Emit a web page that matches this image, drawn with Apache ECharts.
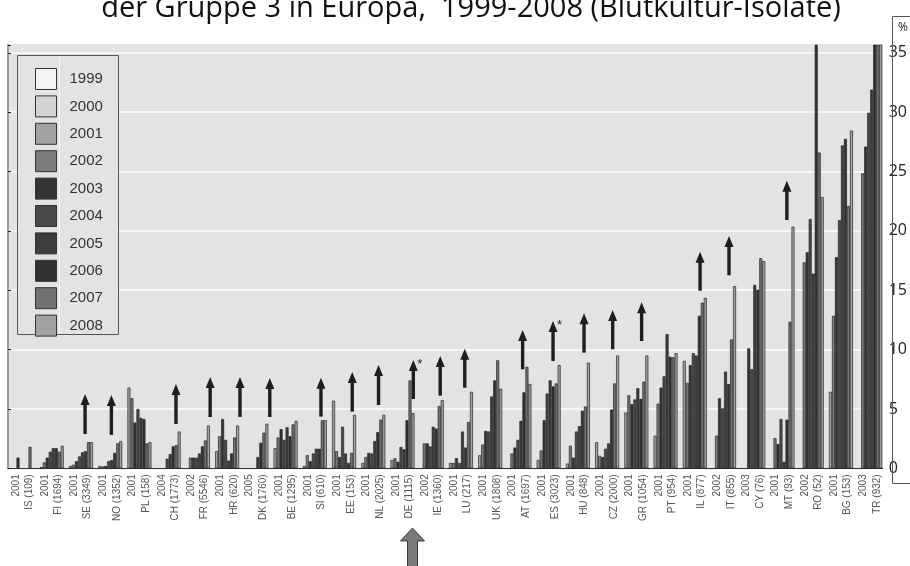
<!DOCTYPE html>
<html><head><meta charset="utf-8">
<script src="https://cdn.jsdelivr.net/npm/echarts@6/dist/echarts.min.js"></script>
<style>html,body{margin:0;padding:0;background:#fff}#c{width:910px;height:566px}</style>
</head><body><div id="c"></div><script>
// ---- data ----
const countries = ['IS (109)','FI (1694)','SE (3349)','NO (1352)','PL (158)','CH (1773)','FR (5546)','HR (620)','DK (1760)','BE (1295)','SI (610)','EE (153)','NL (2025)','DE (1115)','IE (1360)','LU (217)','UK (1808)','AT (1697)','ES (3023)','HU (848)','CZ (2000)','GR (1054)','PT (954)','IL (877)','IT (855)','CY (76)','MT (93)','RO (52)','BG (153)','TR (932)'];
const startYears = ['2001','2001','2001','2001','2001','2004','2002','2001','2005','2001','2001','2001','2001','2001','2002','2001','2001','2001','2001','2001','2001','2001','2001','2001','2002','2003','2001','2002','2001','2003'];
const years = ['1999','2000','2001','2002','2003','2004','2005','2006','2007','2008'];
const yearColors = ['#f3f3f3','#d4d4d4','#a2a2a2','#7b7b7b','#333333','#494949','#3d3d3d','#313131','#727272','#a2a2a2'];
const N = null;
const v1999 = [N,N,N,N,N,N,N,N,N,N,N,N,N,N,N,N,N,N,N,N,N,N,N,N,N,N,N,N,N,N];
const v2000 = [N,N,N,N,N,N,N,N,N,N,N,N,N,N,N,N,N,N,N,N,N,N,N,N,N,N,N,N,N,N];
const v2001 = [N,0.1,0.2,0.2,6.8,N,N,1.45,N,1.7,0.2,5.7,0.45,0.7,N,0.45,1.1,N,0.7,0.4,2.2,4.7,2.75,9.05,N,N,N,N,6.45,N];
const v2002 = [N,0.5,0.3,0.15,5.9,N,0.9,2.7,N,2.6,1.1,1.45,0.95,0.85,2.1,0.45,2.0,1.25,1.5,1.9,1.05,6.15,5.45,7.2,2.75,N,2.55,17.35,12.85,24.85];
const v2003 = [0.9,0.9,0.6,0.2,3.85,N,0.9,4.15,N,3.3,0.6,0.95,1.3,0.55,2.1,0.85,3.15,1.75,4.05,0.9,0.95,5.4,6.8,8.7,5.9,10.1,2.05,18.2,17.8,27.1];
const v2004 = [N,1.4,1.0,0.6,5.0,0.8,0.9,2.4,N,2.4,1.25,3.5,1.25,1.8,1.85,0.45,3.1,2.4,6.3,3.1,1.65,5.8,7.75,9.7,5.05,8.35,4.15,21.0,20.9,29.95];
const v2005 = [N,1.7,1.35,0.7,4.25,1.2,1.25,0.65,0.95,3.45,1.65,1.25,2.3,1.6,3.5,3.1,6.05,4.0,7.4,3.55,2.1,6.75,11.3,9.5,8.15,15.45,0.55,16.4,27.2,31.9];
const v2006 = [N,1.7,1.45,1.3,4.15,1.85,1.85,1.25,2.15,2.7,1.65,0.45,3.05,4.05,3.35,1.75,7.4,6.4,6.9,4.85,4.95,5.85,9.4,12.85,7.1,15.05,4.1,38,27.75,37];
const v2007 = [1.8,1.4,2.2,2.1,2.1,1.95,2.35,2.6,3.0,3.7,4.05,1.3,4.1,7.4,5.25,3.9,9.1,8.55,7.15,5.2,7.15,7.3,9.35,13.95,10.85,17.7,12.35,26.6,22.1,39];
const v2008 = [N,1.9,2.2,2.3,2.2,3.1,3.6,3.6,3.75,4.0,4.05,4.5,4.5,4.65,5.75,6.45,6.7,7.1,8.7,8.9,9.5,9.5,9.7,14.35,15.35,17.45,20.35,22.85,28.45,38];
const yearValues = [v1999,v2000,v2001,v2002,v2003,v2004,v2005,v2006,v2007,v2008];
// trend arrows: category index, horizontal offset (fraction of category), tip value, base value, asterisk
const arrowCats    = [2,3,5,6,7,8,10,11,12,13,14,15,17,18,19,20,21,23,24,26];
const arrowOffsets = [0.14,0.04,0.25,0.42,0.44,0.46,0.21,0.28,0.18,0.37,0.29,0.13,0.11,0.15,0.21,0.19,0.18,0.18,0.17,0.15];
const arrowTips    = [6.26,6.18,7.1,7.69,7.69,7.61,7.63,8.11,8.7,9.12,9.46,10.08,11.65,12.41,13.06,13.34,13.98,18.25,19.57,24.23];
const arrowBases   = [2.89,2.81,3.73,4.32,4.32,4.32,4.35,4.77,5.33,5.84,6.12,6.79,8.34,9.04,9.74,10.03,10.72,14.96,16.26,20.92];
const arrowStars   = [0,0,0,0,0,0,0,0,0,1,0,0,0,1,0,0,0,0,0,0];
const highlightCat = 13; // DE
const yMax = 35.66;
const titleText = 'der Gruppe 3 in Europa,  1999-2008 (Blutkultur-Isolate)';

// ---- chart ----
const chart = echarts.init(document.getElementById('c'), null, {renderer:'canvas'});
const labels = countries.map((c,i)=> startYears[i] + '\n' + c);

const barSeries = years.map((y,i)=>({
  name: y, type:'bar', xAxisIndex:1, yAxisIndex:1,
  data: yearValues[i], barWidth:3, barGap:'0%', clip:true,
  itemStyle:{color: yearColors[i], borderColor:'#262626', borderWidth:0.7},
  emphasis:{disabled:true}, z:2
}));
// two empty slots to shift the year group left inside each category
['p1','p2'].forEach(n=>barSeries.push({name:n, type:'bar', xAxisIndex:1, yAxisIndex:1,
  data: countries.map(()=>null), barWidth:3, barGap:'0%'}));

const arrowSeries = {
  type:'custom', xAxisIndex:1, yAxisIndex:1, z:5, silent:true,
  encode:{x:0, y:2},
  data: arrowCats.map((c,i)=>[c, arrowOffsets[i], arrowTips[i], arrowBases[i], arrowStars[i]]),
  renderItem(params, api){
    const cat = api.value(0);
    const tip = api.coord([cat, api.value(2)]);
    const base = api.coord([cat, api.value(3)]);
    const w = api.size([1,0])[0];
    const x = tip[0] + api.value(1)*w;
    const ch = [
      {type:'polygon', shape:{points:[[x,tip[1]],[x-4.5,tip[1]+11],[x+4.5,tip[1]+11]]}, style:{fill:'#1e1e1e'}},
      {type:'rect', shape:{x:x-1.7, y:tip[1]+9, width:3.4, height:base[1]-tip[1]-9}, style:{fill:'#1e1e1e'}}
    ];
    if (api.value(4)) ch.push({type:'text', style:{text:'*', x:x+4, y:tip[1]-2, fill:'#222', font:'13px Liberation Sans'}});
    return {type:'group', children:ch};
  }
};

const option = {
  animation:false,
  backgroundColor:'#ffffff',
  grid:[
    {left:8, right:19, top:45, bottom:97.7, show:true, backgroundColor:'#e3e3e3', borderWidth:0},
    {left:7.9, width:876.9, top:45, bottom:97.7}
  ],
  xAxis:[
    {type:'value', gridIndex:0, min:0, max:1, axisLine:{show:true, lineStyle:{color:'#333', width:1}},
     axisTick:{show:false}, axisLabel:{show:false}, splitLine:{show:false}},
    {type:'category', gridIndex:1, data:labels, axisLine:{show:false}, axisTick:{show:false},
     axisLabel:{interval:0, rotate:90, fontSize:10, lineHeight:13.5, color:'#555', margin:6, fontFamily:'Liberation Sans'}}
  ],
  yAxis:[
    {type:'value', gridIndex:0, position:'right', min:0, max:yMax, interval:5,
     axisLine:{show:true, lineStyle:{color:'#222', width:1}},
     axisTick:{show:true, length:3, lineStyle:{color:'#222'}},
     axisLabel:{margin:6, fontSize:16, color:'#222', fontFamily:'Open Sans', formatter:v=> (Math.abs(v%5)<1e-9 ? String(v) : '')},
     splitLine:{show:true, lineStyle:{color:['#f7f7f7','#f7f7f7','#f7f7f7','#f7f7f7','#f7f7f7','#f7f7f7','#f7f7f7','#f7f7f7','#e3e3e3'], width:2}}},
    {type:'value', gridIndex:1, min:0, max:yMax, show:false},
    {type:'value', gridIndex:0, position:'left', min:0, max:yMax, axisLine:{show:true, lineStyle:{color:'#9a9a9a', width:2}},
     axisTick:{show:false}, axisLabel:{show:false}, splitLine:{show:false}}
  ],
  legend:{
    data: years, orient:'vertical', left:35, top:68, padding:0, itemWidth:21, itemHeight:21, itemGap:5.4,
    icon:'rect', selectedMode:false,
    itemStyle:{borderColor:'#333', borderWidth:1},
    textStyle:{fontSize:15, color:'#333', fontFamily:'Liberation Sans', padding:[3,0,0,8]}
  },
  graphic:[
    {id:'title', type:'text', style:{text:titleText, x:471, y:8.5, align:'center', verticalAlign:'middle', font:'29px Open Sans', fill:'#111'}},
    {id:'pctbox', type:'rect', shape:{x:892.5, y:16.5, width:40, height:467}, style:{fill:'none', stroke:'#555', lineWidth:1}, z:1},
    {id:'pct', type:'text', style:{text:'%', x:898, y:28, verticalAlign:'middle', font:'12px Open Sans', fill:'#222'}},
    {id:'legbox', type:'rect', shape:{x:17.5, y:55.5, width:101, height:279}, style:{fill:'#e3e3e3', stroke:'#555', lineWidth:1}, z:3},
    {id:'legline', type:'line', shape:{x1:59.5, y1:56, x2:59.5, y2:334}, style:{stroke:'#f4f4f4', lineWidth:1}, z:3}
  ],
  series: barSeries.concat([arrowSeries])
};
chart.setOption(option);

// highlight arrow under the DE label, positioned from the category axis
const px = chart.convertToPixel({xAxisIndex:1}, highlightCat) + 10;
const ty = 528;
chart.setOption({graphic:[{id:'bigArrow', type:'polygon', z:5,
  shape:{points:[[px,ty],[px-12,ty+13],[px-5,ty+13],[px-5,ty+42],[px+5,ty+42],[px+5,ty+13],[px+12,ty+13]]},
  style:{fill:'#7a7a7a', stroke:'#3a3a3a', lineWidth:1}}]});
</script></body></html>
